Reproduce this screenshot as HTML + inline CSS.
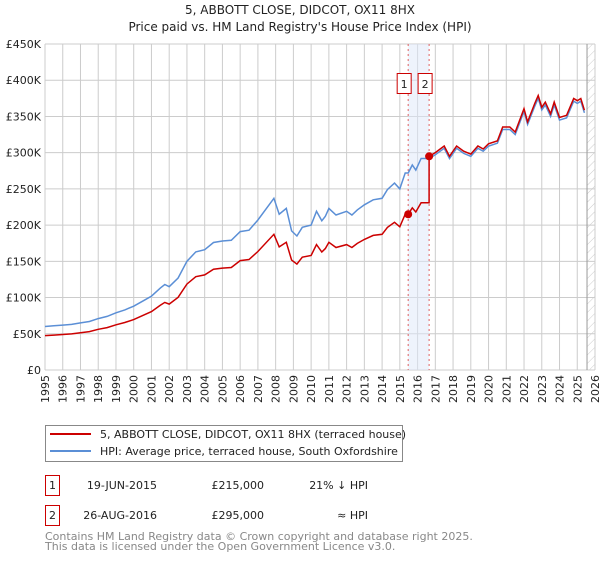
<!DOCTYPE html>
<html><head><meta charset="utf-8"><style>
body{margin:0;background:#fff;width:600px;height:560px;overflow:hidden;font-family:"DejaVu Sans","Liberation Sans",sans-serif;}
svg text{font-family:"DejaVu Sans","Liberation Sans",sans-serif;}
</style></head><body>
<svg id="chart" width="600" height="560" xmlns="http://www.w3.org/2000/svg">
<defs><pattern id="hatch" width="6" height="6" patternUnits="userSpaceOnUse" patternTransform="rotate(45)"><line x1="0" y1="0" x2="0" y2="6" stroke="#ccc" stroke-width="1"/></pattern></defs>
<text x="300" y="14" text-anchor="middle" font-size="12" fill="#222">5, ABBOTT CLOSE, DIDCOT, OX11 8HX</text>
<text x="300" y="31" text-anchor="middle" font-size="12" fill="#222">Price paid vs. HM Land Registry's House Price Index (HPI)</text>
<g id="grid"></g><g id="marks"></g><g id="axes"></g>
<g>
<rect x="45.5" y="425.5" width="357" height="36" fill="#fff" stroke="#888"/>
<line x1="50" y1="434" x2="91" y2="434" stroke="#cc0000" stroke-width="2"/>
<text x="100" y="438" font-size="11" fill="#222">5, ABBOTT CLOSE, DIDCOT, OX11 8HX (terraced house)</text>
<line x1="50" y1="451" x2="91" y2="451" stroke="#5b8fd6" stroke-width="2"/>
<text x="100" y="455" font-size="11" fill="#222">HPI: Average price, terraced house, South Oxfordshire</text>
</g>
<g font-size="11" fill="#222">
<rect x="45.5" y="475.5" width="14" height="20" fill="#fff" stroke="#cc0000"/>
<text x="52.5" y="489" text-anchor="middle">1</text>
<text x="157" y="489" text-anchor="end">19-JUN-2015</text>
<text x="264" y="489" text-anchor="end">£215,000</text>
<text x="368" y="489" text-anchor="end">21% ↓ HPI</text>
<rect x="45.5" y="505.5" width="14" height="20" fill="#fff" stroke="#cc0000"/>
<text x="52.5" y="519" text-anchor="middle">2</text>
<text x="157" y="519" text-anchor="end">26-AUG-2016</text>
<text x="264" y="519" text-anchor="end">£295,000</text>
<text x="368" y="519" text-anchor="end">≈ HPI</text>
</g>
<text x="45" y="540" font-size="11" fill="#888">Contains HM Land Registry data © Crown copyright and database right 2025.</text>
<text x="45" y="550" font-size="11" fill="#888">This data is licensed under the Open Government Licence v3.0.</text>
</svg>
<script>
const hpiYears=[1995,1995.5,1996,1996.5,1997,1997.5,1998,1998.5,1999,1999.5,2000,2000.5,2001,2001.5,2001.75,2002,2002.5,2003,2003.5,2004,2004.5,2005,2005.5,2006,2006.5,2007,2007.9,2008.2,2008.6,2008.9,2009.2,2009.5,2010,2010.3,2010.6,2010.8,2011,2011.4,2012,2012.3,2012.6,2013,2013.5,2014,2014.3,2014.7,2015,2015.3,2015.47,2015.7,2015.9,2016.2,2016.65,2017,2017.5,2017.8,2018.2,2018.6,2019,2019.4,2019.7,2020,2020.5,2020.8,2021.2,2021.5,2022,2022.2,2022.6,2022.8,2023,2023.2,2023.5,2023.7,2024,2024.4,2024.8,2025,2025.2,2025.4];
const hpiValues=[60,61,62,63,65,67,71,74,79,83,88,95,102,113,118,115,127,150,163,166,176,178,179,191,193,207,237,215,223,192,185,197,200,219,206,212,223,214,219,214,221,228,235,237,249,258,250,272,272,283,276,292,292,297,306,292,306,299,295,306,302,309,313,332,332,325,357,339,364,375,359,366,350,366,345,348,371,368,371,355];
const saleYears=[2015.47,2016.65];
const salePrices=[215,295];
const yTicks=[0,50,100,150,200,250,300,350,400,450];
const yTickLabels=["£0","£50K","£100K","£150K","£200K","£250K","£300K","£350K","£400K","£450K"];
const xTicks=[1995,1996,1997,1998,1999,2000,2001,2002,2003,2004,2005,2006,2007,2008,2009,2010,2011,2012,2013,2014,2015,2016,2017,2018,2019,2020,2021,2022,2023,2024,2025,2026];
const X0=45,X1=595,Y0=370,Y1=44;
const xs=y=>X0+(y-1995)/(2026-1995)*(X1-X0);
const ys=v=>Y0-v/450*(Y0-Y1);
const NS="http://www.w3.org/2000/svg";
function mk(parent,tag,attrs){const e=document.createElementNS(NS,tag);for(const k in attrs)e.setAttribute(k,attrs[k]);document.getElementById(parent).appendChild(e);return e;}
function hpiAt(t){for(let i=1;i<hpiYears.length;i++){if(t<=hpiYears[i]){const a=hpiYears[i-1],b=hpiYears[i];return hpiValues[i-1]+(hpiValues[i]-hpiValues[i-1])*(t-a)/(b-a);}}return hpiValues[hpiValues.length-1];}
yTicks.forEach((v,i)=>{
 const l=mk('grid','line',{x1:X0,x2:X1,y1:ys(v),y2:ys(v),stroke:'#ccc','stroke-width':1});
 
 
 const t=mk('axes','text',{x:X0-4,y:ys(v)+4,'text-anchor':'end','font-size':11,fill:'#222'});
 t.textContent=yTickLabels[i];
 
 
});
xTicks.forEach(y=>{
 const l=mk('grid','line',{x1:xs(y),x2:xs(y),y1:Y1,y2:Y0,stroke:'#ccc','stroke-width':1});
 
 
 const t=mk('axes','text',{x:0,y:0,'text-anchor':'end','font-size':11,fill:'#222',transform:`translate(${xs(y)+4},${Y0+5}) rotate(-90)`});
 t.textContent=y;
 
 
});
const hx=xs(2025.55);
const h=mk('grid','rect',{x:hx,y:Y1,width:X1-hx,height:Y0-Y1,fill:'url(#hatch)'});


mk('grid','line',{x1:hx,x2:hx,y1:Y1,y2:Y0,stroke:'#999','stroke-width':1});
const band=mk('marks','rect',{x:xs(saleYears[0]),y:Y1,width:xs(saleYears[1])-xs(saleYears[0]),height:Y0-Y1,fill:'#dde8fa','fill-opacity':0.5});


saleYears.forEach((s,i)=>{
 const l=mk('marks','line',{x1:xs(s),x2:xs(s),y1:Y1,y2:Y0,stroke:'#e06060','stroke-width':1,'stroke-dasharray':'2,3'});
 
 
 const bx=xs(s)-4;
 const r=mk('marks','rect',{x:bx-7,y:73.5,width:14,height:20,fill:'#fff',stroke:'#cc0000'});
 
 
 const t=mk('marks','text',{x:bx,y:88,'text-anchor':'middle','font-size':11,fill:'#222'});
 t.textContent=String(i+1);
});
const hp=mk('marks','path',{d:'M'+hpiYears.map((y,i)=>xs(y).toFixed(1)+','+ys(hpiValues[i]).toFixed(1)).join('L'),fill:'none',stroke:'#5b8fd6','stroke-width':1.5});


const r0=salePrices[0]/hpiAt(saleYears[0]), r1=salePrices[1]/hpiAt(saleYears[1]);
let pts=[];
hpiYears.forEach((y,i)=>{ if(y<saleYears[1]) pts.push([y,hpiValues[i]*r0]); });
pts.push([saleYears[1],hpiAt(saleYears[1])*r0]);
pts.push([saleYears[1],salePrices[1]]);
hpiYears.forEach((y,i)=>{ if(y>saleYears[1]) pts.push([y,hpiValues[i]*r1]); });
const pp=mk('marks','path',{d:'M'+pts.map(p=>xs(p[0]).toFixed(1)+','+ys(p[1]).toFixed(1)).join('L'),fill:'none',stroke:'#cc0000','stroke-width':1.5});


saleYears.forEach((s,i)=>{
 const c=mk('marks','circle',{cx:xs(s),cy:ys(salePrices[i]),r:4,fill:'#cc0000'});
 
 
});
</script>
</body></html>
